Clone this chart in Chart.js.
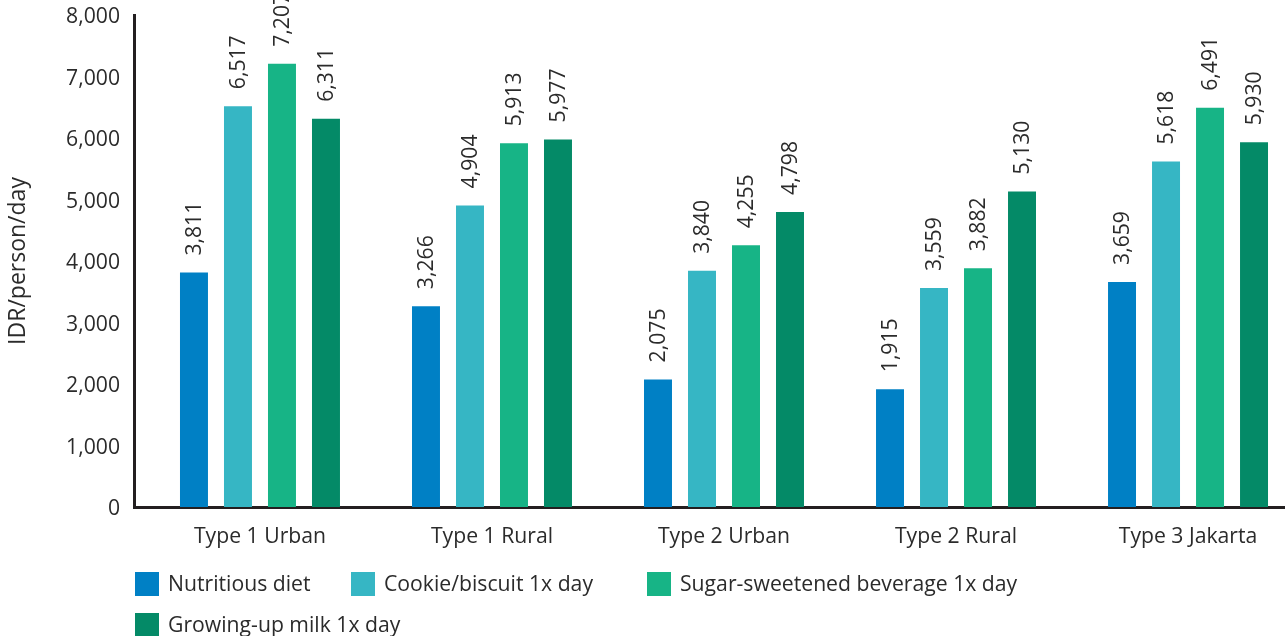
<!DOCTYPE html>
<html>
<head>
<meta charset="utf-8">
<script src="https://cdn.jsdelivr.net/npm/chart.js@4"></script>
<style>
  html, body { margin: 0; padding: 0; background: #fff; overflow: hidden; }
  #wrap { width: 1285px; height: 636px; }
</style>
</head>
<body>
<div id="wrap"><canvas id="grafico"></canvas></div>
<script>
const categorias = ['Type 1 Urban', 'Type 1 Rural', 'Type 2 Urban', 'Type 2 Rural', 'Type 3 Jakarta'];
const nutritiousDiet = [3811, 3266, 2075, 1915, 3659];
const cookieBiscuit = [6517, 4904, 3840, 3559, 5618];
const sugarBeverage = [7207, 5913, 4255, 3882, 6491];
const growingUpMilk = [6311, 5977, 4798, 5130, 5930];
const series = ['Nutritious diet', 'Cookie/biscuit 1x day', 'Sugar-sweetened beverage 1x day', 'Growing-up milk 1x day'];
const cores = ['#0080c5', '#36b6c4', '#17b486', '#048a67'];
const yTicks = [0, 1000, 2000, 3000, 4000, 5000, 6000, 7000, 8000];

const corTexto = '#2b2b2b';
const fonte = { family: '"Open Sans"', size: 21.2 };

// rotulos girados acima das barras
const rotuloValores = {
  id: 'rotuloValores',
  afterDatasetsDraw(chart) {
    const ctx = chart.ctx;
    ctx.save();
    ctx.font = '21.2px "Open Sans"';
    ctx.fillStyle = corTexto;
    ctx.textAlign = 'left';
    ctx.textBaseline = 'middle';
    chart.data.datasets.forEach((ds, di) => {
      chart.getDatasetMeta(di).data.forEach((bar, i) => {
        ctx.save();
        ctx.translate(bar.x + 1, bar.y - 17);
        ctx.rotate(-Math.PI / 2);
        ctx.fillText(ds.data[i].y.toLocaleString('en-US'), 0, 0);
        ctx.restore();
      });
    });
    ctx.restore();
  }
};

// legenda desenhada a mao, posicoes das colunas como no original
const legendaX = [135, 351, 647, 135];
const legendaY = [584, 584, 584, 625];
const legenda = {
  id: 'legenda',
  afterDraw(chart) {
    const ctx = chart.ctx;
    ctx.save();
    ctx.font = '21.2px "Open Sans"';
    ctx.textBaseline = 'middle';
    chart.data.datasets.forEach((ds, i) => {
      const x = legendaX[i], y = legendaY[i];
      ctx.fillStyle = ds.backgroundColor;
      ctx.fillRect(x, y - 12, 24, 24);
      ctx.fillStyle = corTexto;
      ctx.fillText(ds.label, x + 33, y + 1);
    });
    ctx.restore();
  }
};

const valores = [nutritiousDiet, cookieBiscuit, sugarBeverage, growingUpMilk];

new Chart(document.getElementById('grafico'), {
  type: 'bar',
  data: {
    datasets: valores.map((v, s) => ({
      label: series[s],
      data: v.map((y, i) => ({ x: i, y })),
      backgroundColor: cores[s],
      categoryPercentage: 0.7586,
      barPercentage: 0.636
    }))
  },
  options: {
    responsive: true,
    maintainAspectRatio: false,
    animation: false,
    layout: { padding: { top: 15, right: 0, left: 0, bottom: 0 } },
    plugins: { legend: { display: false }, tooltip: { enabled: false } },
    scales: {
      x: {
        type: 'linear',
        bounds: 'data',
        offset: false,
        min: -0.543,
        max: 4.418,
        grid: { display: false, drawTicks: false, offset: false },
        border: { color: '#231f20', width: 3 },
        afterBuildTicks: s => { s.ticks = categorias.map((c, i) => ({ value: i })); },
        ticks: {
          callback: v => categorias[v],
          font: fonte, color: corTexto, padding: 17,
          autoSkip: false, maxRotation: 0
        },
        afterFit: s => { s.height = 129; }
      },
      y: {
        min: 0,
        max: 8000,
        grid: { display: false, drawTicks: false },
        border: { color: '#231f20', width: 3 },
        afterBuildTicks: s => { s.ticks = yTicks.map(v => ({ value: v })); },
        ticks: {
          callback: v => v.toLocaleString('en-US'),
          font: fonte, color: corTexto, padding: 14, labelOffset: 2
        },
        title: {
          display: true, text: 'IDR/person/day',
          font: { family: '"Open Sans"', size: 23 }, color: corTexto,
          padding: { top: 5, bottom: 0 }
        },
        afterFit: s => { s.width = 134; s.paddingTop = 0; s.paddingBottom = 0; }
      }
    }
  },
  plugins: [rotuloValores, legenda]
});
</script>
</body>
</html>
